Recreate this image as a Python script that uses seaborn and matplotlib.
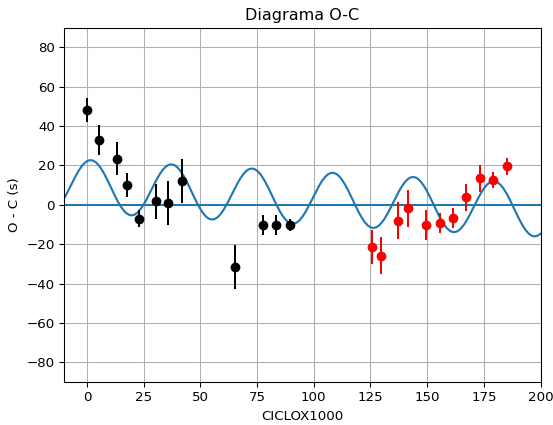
import matplotlib
matplotlib.use("Agg")
import matplotlib.pyplot as plt
import seaborn as sns
import pandas as pd

# Observed O-C values (black: first dataset, red: second dataset)
ciclo_negro = [0.0, 5.2, 13.1, 17.8, 23.1, 30.2, 35.5, 42.0, 65.2, 77.6, 83.3, 89.7]
oc_negro = [48.3, 33.0, 23.4, 10.2, -7.1, 1.8, 0.8, 12.2, -31.5, -10.4, -10.4, -10.2]
err_negro = [6.1, 7.6, 8.4, 6.0, 4.3, 8.8, 11.2, 11.2, 11.2, 5.1, 5.1, 3.0]

ciclo_rojo = [125.8, 129.6, 137.2, 141.5, 149.3, 155.6, 161.4, 167.3, 173.3, 179.2, 185.1]
oc_rojo = [-21.6, -25.9, -8.1, -1.7, -10.4, -9.2, -6.8, 3.8, 13.4, 12.7, 19.5]
err_rojo = [8.6, 9.4, 9.4, 9.4, 7.6, 5.1, 5.1, 6.8, 6.8, 4.1, 4.3]

# Model curve (every 1.25 cycles from -10 to 200)
ciclo_modelo = [-10 + 1.25 * i for i in range(169)]
oc_modelo = [
    3.50, 6.18, 9.04, 11.94, 14.72, 17.26, 19.43, 21.11, 22.23, 22.71,
    22.55, 21.73, 20.30, 18.32, 15.89, 13.12, 10.14, 7.09, 4.11, 1.35,
    -1.05, -3.01, -4.40, -5.19, -5.32, -4.79, -3.64, -1.93, 0.25, 2.81,
    5.61, 8.51, 11.36, 14.03, 16.37, 18.29, 19.66, 20.44, 20.56, 20.04,
    18.88, 17.14, 14.89, 12.26, 9.35, 6.31, 3.29, 0.42, -2.17, -4.33,
    -5.99, -7.05, -7.48, -7.24, -6.37, -4.90, -2.92, -0.51, 2.20, 5.07,
    7.96, 10.73, 13.23, 15.35, 16.98, 18.03, 18.45, 18.22, 17.33, 15.84,
    13.81, 11.34, 8.54, 5.55, 2.50, -0.46, -3.19, -5.56, -7.45, -8.79,
    -9.50, -9.56, -8.98, -7.77, -6.00, -3.77, -1.18, 1.63, 4.53, 7.37,
    10.01, 12.32, 14.18, 15.50, 16.21, 16.27, 15.67, 14.45, 12.65, 10.36,
    7.69, 4.77, 1.72, -1.29, -4.14, -6.68, -8.80, -10.40, -11.40, -11.76,
    -11.46, -10.52, -9.00, -6.96, -4.52, -1.79, 1.09, 3.98, 6.73, 9.20,
    11.28, 12.84, 13.83, 14.18, 13.88, 12.93, 11.38, 9.30, 6.79, 3.97,
    0.96, -2.09, -5.03, -7.73, -10.05, -11.89, -13.17, -13.81, -13.81, -13.15,
    -11.89, -10.07, -7.79, -5.17, -2.34, 0.56, 3.38, 6.00, 8.26, 10.07,
    11.33, 11.97, 11.96, 11.30, 10.01, 8.16, 5.83, 3.12, 0.18, -2.87,
    -5.87, -8.70, -11.20, -13.27, -14.81, -15.74, -16.03, -15.66, -14.66,
]

xticks = [0, 25, 50, 75, 100, 125, 150, 175, 200]
yticks = [-80, -60, -40, -20, 0, 20, 40, 60, 80]

plt.rcParams['font.family'] = ['DejaVu Sans']

fig = plt.figure(figsize=(553 / 96, 425 / 96), dpi=96)
ax = fig.add_axes([64.4 / 553, 1 - 382 / 425, (540.5 - 64.4) / 553, (382 - 27.7) / 425])

modelo = pd.DataFrame({"ciclo": ciclo_modelo, "oc": oc_modelo})
sns.lineplot(data=modelo, x="ciclo", y="oc", ax=ax, color="#1f77b4",
             linewidth=1.6, sort=False, zorder=2)
ax.axhline(0, color="#1f77b4", linewidth=1.5, zorder=2)

ax.errorbar(ciclo_negro, oc_negro, yerr=err_negro, fmt="o", color="black",
            ecolor="black", markersize=6.3, elinewidth=1.5, zorder=3)
ax.errorbar(ciclo_rojo, oc_rojo, yerr=err_rojo, fmt="o", color="red",
            ecolor="red", markersize=6.3, elinewidth=1.5, zorder=3)

ax.set_xlim(-10, 200)
ax.set_ylim(-90, 90)
ax.set_xticks(xticks)
ax.set_yticks(yticks)
ax.grid(True, color="#b0b0b0", linewidth=0.8)
ax.set_axisbelow(True)
ax.set_title("Diagrama O-C", fontsize=12)
ax.set_xlabel("CICLOX1000", fontsize=10)
ax.set_ylabel("O - C (s)", fontsize=10)
ax.tick_params(labelsize=10)

fig.savefig("out.png", dpi=96)
